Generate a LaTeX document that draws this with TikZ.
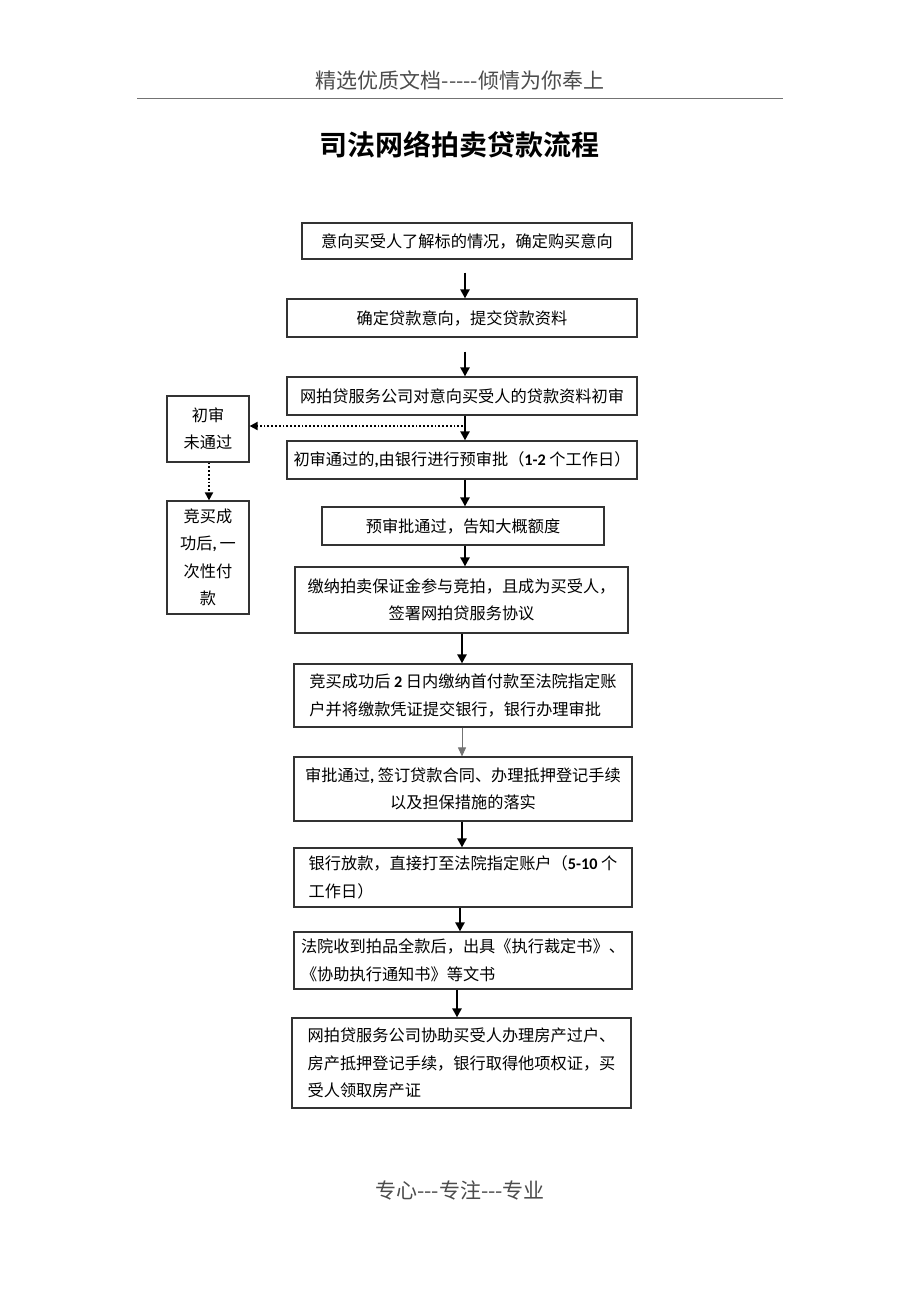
\documentclass[tikz,border=0pt]{standalone}
\usepackage{fontspec}
\usetikzlibrary{arrows.meta}
\newfontfamily\cjk{Noto Sans CJK SC}
\newfontfamily\cjkb{Noto Sans CJK SC Bold}
\newfontfamily\lat{Carlito}
\newcommand{\num}[1]{{\lat\bfseries #1}}
\tikzset{
  box/.style={draw=black!80, line width=1.2pt, inner sep=0pt, align=center,
    font=\cjk\fontsize{16.2}{27.5}\selectfont},
  boxl/.style={box, align=left},
  arr/.style={line width=2.4pt, -{Triangle[length=9pt,width=9pt]}},
  arrthin/.style={draw=black!55, line width=0.9pt, -{Triangle[length=9pt,width=8pt]}},
  dotarr/.style={line width=1.8pt, dotted, -{Triangle[length=8pt,width=8pt]}},
}
\begin{document}
\begin{tikzpicture}[x=1pt,y=-1pt]
\useasboundingbox[fill=white] (0,0) rectangle (920,1302);

% header / footer
\node[font=\cjk\fontsize{21}{24}\selectfont, text=black!70] (hdr) at (460,80) {精选优质文档-----倾情为你奉上};
\coordinate (hl) at (137,98);
\coordinate (hr) at (783,98);
\draw[black!55, line width=0.8pt] (hl) -- (hr);
\node[font=\cjkb\fontsize{28}{30}\selectfont] (title) at (459,145) {司法网络拍卖贷款流程};
\node[font=\cjk\fontsize{21}{24}\selectfont, text=black!70] (ftr) at (460,1190) {专心---专注---专业};

% main boxes
\node[box, minimum width=330pt, minimum height=36pt] (b1) at (467,241) {意向买受人了解标的情况，确定购买意向};
\node[box, minimum width=350pt, minimum height=38pt] (b2) at (462,318) {确定贷款意向，提交贷款资料};
\node[box, minimum width=350pt, minimum height=38pt] (b3) at (462,396) {网拍贷服务公司对意向买受人的贷款资料初审};
\node[box, minimum width=350pt, minimum height=38pt] (b4) at (462,460) {初审通过的{\lat\bfseries ,}由银行进行预审批（\num{1-2} 个工作日）};
\node[box, minimum width=282pt, minimum height=38pt] (b5) at (463,526) {预审批通过，告知大概额度};
\node[box, minimum width=333pt, minimum height=66pt] (b6) at (461.5,600) {缴纳拍卖保证金参与竞拍，且成为买受人，\\签署网拍贷服务协议};
\node[boxl, minimum width=338pt, minimum height=63pt] (b7) at (463,695.5) {竞买成功后 \num{2} 日内缴纳首付款至法院指定账\\户并将缴款凭证提交银行，银行办理审批};
\node[box, minimum width=338pt, minimum height=64pt] (b8) at (463,789) {审批通过{\lat\bfseries ,} 签订贷款合同、办理抵押登记手续\\以及担保措施的落实};
\node[boxl, minimum width=338pt, minimum height=59pt] (b9) at (463,877.5) {银行放款，直接打至法院指定账户（\num{5-10} 个\\工作日）\hspace*{13.4em}};
\node[boxl, minimum width=338pt, minimum height=57pt] (b10) at (463,960.5) {法院收到拍品全款后，出具《执行裁定书》、\\《协助执行通知书》等文书};
\node[boxl, minimum width=339pt, minimum height=90pt] (b11) at (461.5,1063) {网拍贷服务公司协助买受人办理房产过户、\\房产抵押登记手续，银行取得他项权证，买\\受人领取房产证};

% left boxes
\node[box, minimum width=82pt, minimum height=66pt] (l1) at (208,429) {初审\\未通过};
\node[box, minimum width=82pt, minimum height=113pt] (l2) at (208,557.5) {竞买成\\功后{\lat\bfseries ,}\hspace{3pt}一\\次性付\\款};

% columns
\coordinate (c465) at (465,0);
\coordinate (c462) at (462,0);
\coordinate (c460) at (460,0);
\coordinate (c457) at (457,0);
\coordinate (c209) at (209,0);

% arrows
\draw[arr, shorten <=13pt] (b1.south -| c465) -- (b2.north -| c465);
\draw[arr, shorten <=14pt] (b2.south -| c465) -- (b3.north -| c465);
\draw[arr] (b3.south -| c465) -- (b4.north -| c465);
\draw[arr] (b4.south -| c465) -- (b5.north -| c465);
\draw[arr] (b5.south -| c465) -- (b6.north -| c465);
\draw[arr] (b6.south -| c462) -- (b7.north -| c462);
\draw[arrthin] (b7.south -| c462) -- (b8.north -| c462);
\draw[arr] (b8.south -| c462) -- (b9.north -| c462);
\draw[arr] (b9.south -| c460) -- (b10.north -| c460);
\draw[arr] (b10.south -| c457) -- (b11.north -| c457);

% dotted
\coordinate (ds) at (463,426);
\draw[dotarr] (ds) -- (l1.east |- ds);
\draw[dotarr] (l1.south -| c209) -- (l2.north -| c209);
\end{tikzpicture}
\end{document}
